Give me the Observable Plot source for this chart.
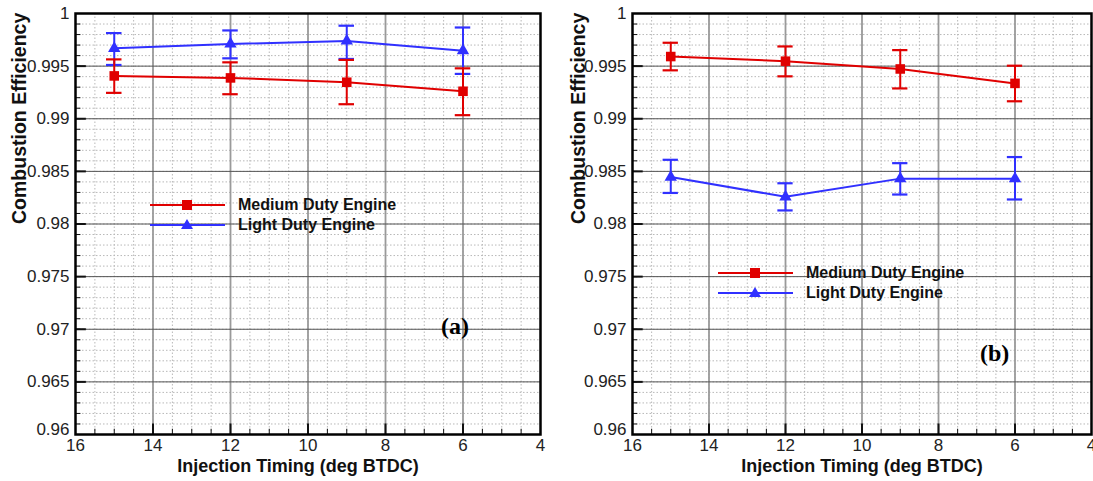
<!DOCTYPE html>
<html>
<head>
<meta charset="utf-8">
<script src="https://cdn.jsdelivr.net/npm/d3@7"></script>
<script src="https://cdn.jsdelivr.net/npm/@observablehq/plot@0.6"></script>
<style>
  html, body { margin: 0; padding: 0; background: #fff; }
  #wrap { position: relative; width: 1093px; height: 481px; font-family: "Liberation Sans", Arial, sans-serif; overflow: hidden; }
  .panel { position: absolute; top: 0; }
  .legend { position: absolute; font-family: "Liberation Sans", Arial, sans-serif; font-weight: bold; font-size: 16px; color: #111; }
  .legend .row { display: flex; align-items: center; height: 20px; }
  .legend svg { margin-right: 13px; }
  .tag { position: absolute; font-family: "Liberation Serif", "Times New Roman", serif; font-weight: bold; font-size: 24px; color: #000; }
</style>
</head>
<body>
<div id="wrap"></div>
<script>
// ---- data ----
const timing = [15, 12, 9, 6];

// Panel (a)
const aMedium   = [0.99407, 0.99388, 0.99347, 0.99261];
const aMediumLo = [0.99246, 0.99233, 0.99138, 0.99034];
const aMediumHi = [0.99564, 0.99536, 0.99559, 0.99479];
const aLight    = [0.99669, 0.99710, 0.99739, 0.99647];
const aLightLo  = [0.99511, 0.99574, 0.99568, 0.99426];
const aLightHi  = [0.99814, 0.99839, 0.99884, 0.99867];

// Panel (b)
const bMedium   = [0.99591, 0.99547, 0.99473, 0.99336];
const bMediumLo = [0.99460, 0.99403, 0.99288, 0.99166];
const bMediumHi = [0.99722, 0.99687, 0.99652, 0.99504];
const bLight    = [0.98446, 0.98258, 0.98431, 0.98431];
const bLightLo  = [0.98295, 0.98129, 0.98280, 0.98233];
const bLightHi  = [0.98610, 0.98387, 0.98578, 0.98636];

const seriesNames = ["Medium Duty Engine", "Light Duty Engine"];
const xTicks = [16, 14, 12, 10, 8, 6, 4];
const yTicks = [0.96, 0.965, 0.97, 0.975, 0.98, 0.985, 0.99, 0.995, 1];
const xLabel = "Injection Timing (deg BTDC)";
const yLabel = "Combustion Efficiency";

// ---- style ----
const RED = "#e00000";
const BLUE = "#3030ff";
const FONT = "'Liberation Sans', Arial, sans-serif";

function rows(xs, ys, lo, hi) {
  return xs.map((x, i) => ({x, y: ys[i], lo: lo[i], hi: hi[i]}));
}

const xDomain = [xTicks[0], xTicks[xTicks.length - 1]];
const yDomain = [yTicks[0], yTicks[yTicks.length - 1]];
const xMinor = d3.range(xDomain[1], xDomain[0] + 1e-9, 0.5);
const yMinor = d3.range(0, 41).map(i => +(yDomain[0] + i * 0.001).toFixed(3));
const xMajorInner = xTicks.slice(1, -1);
const yMajorInner = yTicks.slice(1, -1);

function panel({width, marginLeft, marginRight, medium, light, titleDx, yTitleDx}) {
  const capW = 0.2;
  const series = [
    {d: light, color: BLUE, symbol: "triangle", r: 4.6},
    {d: medium, color: RED, symbol: "square", r: 5.4}
  ];
  const marks = [
    Plot.ruleX(xMinor, {stroke: "#b8b8b8", strokeWidth: 1, strokeDasharray: "1.5,2"}),
    Plot.ruleY(yMinor, {stroke: "#b8b8b8", strokeWidth: 1, strokeDasharray: "1.5,2"}),
    Plot.ruleX(xMajorInner, {stroke: "#9a9a9a", strokeWidth: 1.8}),
    Plot.ruleY(yMajorInner, {stroke: "#555", strokeWidth: 1}),
    // inward ticks
    Plot.ruleX(xMinor, {y1: yDomain[0], y2: yDomain[0] + 0.0005, stroke: "#111", strokeWidth: 1}),
    Plot.ruleX(xMajorInner, {y1: yDomain[0], y2: yDomain[0] + 0.001, stroke: "#111", strokeWidth: 2}),
    Plot.ruleY(yMinor, {x1: xDomain[0], x2: xDomain[0] - 0.14, stroke: "#111", strokeWidth: 1}),
    Plot.ruleY(yMajorInner, {x1: xDomain[0], x2: xDomain[0] - 0.28, stroke: "#111", strokeWidth: 2})
  ];
  for (const s of series) {
    marks.push(
      Plot.line(s.d, {x: "x", y: "y", stroke: s.color, strokeWidth: 2}),
      Plot.ruleX(s.d, {x: "x", y1: "lo", y2: "hi", stroke: s.color, strokeWidth: 2}),
      Plot.ruleY(s.d, {y: "lo", x1: d => d.x - capW, x2: d => d.x + capW, stroke: s.color, strokeWidth: 2.2}),
      Plot.ruleY(s.d, {y: "hi", x1: d => d.x - capW, x2: d => d.x + capW, stroke: s.color, strokeWidth: 2.2}),
      Plot.dot(s.d, {x: "x", y: "y", symbol: s.symbol, r: s.r, fill: s.color, stroke: "none"})
    );
  }
  marks.push(
    Plot.frame({stroke: "#000", strokeWidth: 2.5}),
    Plot.axisX(xTicks, {tickSize: 0, tickPadding: 4, fontSize: 17, fill: "#222", tickFormat: d => String(d), label: null}),
    Plot.axisY(yTicks.slice(1), {tickSize: 0, tickPadding: 6, fontSize: 17, fill: "#222", tickFormat: d => String(d), label: null}),
    Plot.text([yTicks[0]], {y: d => d, frameAnchor: "left", dx: -6, dy: -5, textAnchor: "end", fontSize: 17, fill: "#222", text: d => String(d)}),
    Plot.text([xLabel], {frameAnchor: "bottom", dy: 37, dx: titleDx, fontSize: 18, fontWeight: "bold", fill: "#111", text: d => d}),
    Plot.text([yLabel], {frameAnchor: "left", dx: yTitleDx, rotate: -90, fontSize: 19.5, fontWeight: "bold", fill: "#111", text: d => d})
  );
  return Plot.plot({
    width, height: 481,
    marginLeft, marginRight, marginTop: 13, marginBottom: 47,
    x: {domain: xDomain, axis: null},
    y: {domain: yDomain, axis: null},
    style: {fontFamily: FONT, fontSize: "17px", background: "transparent", overflow: "visible"},
    marks
  });
}

const wrap = document.getElementById("wrap");

const pa = panel({
  width: 550, marginLeft: 75, marginRight: 10,
  medium: rows(timing, aMedium, aMediumLo, aMediumHi),
  light: rows(timing, aLight, aLightLo, aLightHi),
  titleDx: -10, yTitleDx: -56
});
pa.classList.add("panel"); pa.style.left = "0px";
wrap.appendChild(pa);

const pb = panel({
  width: 543, marginLeft: 82, marginRight: 2,
  medium: rows(timing, bMedium, bMediumLo, bMediumHi),
  light: rows(timing, bLight, bLightLo, bLightHi),
  titleDx: 0, yTitleDx: -54
});
pb.classList.add("panel"); pb.style.left = "550px";
wrap.appendChild(pb);

// ---- legends (HTML) ----
function legend(left, top) {
  const div = document.createElement("div");
  div.className = "legend";
  div.style.left = left + "px";
  div.style.top = top + "px";
  const styles = [
    {color: RED, shape: "square"},
    {color: BLUE, shape: "triangle"}
  ];
  seriesNames.forEach((name, i) => {
    const row = document.createElement("div");
    row.className = "row";
    const st = styles[i];
    const shape = st.shape === "square"
      ? `<rect x="32" y="5" width="10" height="10" fill="${st.color}"/>`
      : `<path d="M37,4 L43,14 L31,14 Z" fill="${st.color}"/>`;
    row.innerHTML = `<svg width="75" height="20"><line x1="0" x2="75" y1="10" y2="10" stroke="${st.color}" stroke-width="2"/>${shape}</svg><span>${name}</span>`;
    div.appendChild(row);
  });
  wrap.appendChild(div);
}
legend(150, 195);
legend(718, 263);

function tag(text, left, top) {
  const t = document.createElement("div");
  t.className = "tag";
  t.style.left = left + "px";
  t.style.top = top + "px";
  t.textContent = text;
  wrap.appendChild(t);
}
tag("(a)", 441, 313);
tag("(b)", 980, 340);
</script>
</body>
</html>
